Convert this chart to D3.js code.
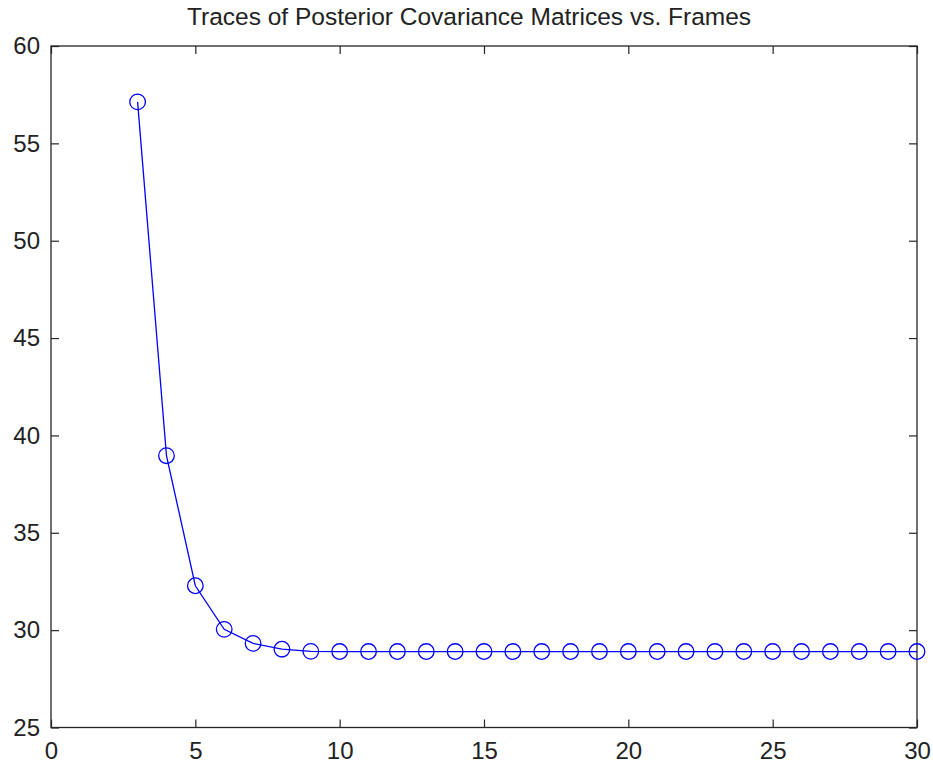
<!DOCTYPE html>
<html>
<head>
<meta charset="utf-8">
<script src="https://cdn.jsdelivr.net/npm/d3@7"></script>
<style>
  body { margin: 0; background: #fff; }
  text { font-family: "Liberation Sans", Arial, sans-serif; fill: #222; }
</style>
</head>
<body>
<div id="chart"></div>
<script>
// frames and trace values
var frames = [3, 4, 5, 6, 7, 8, 9, 10, 11, 12, 13, 14, 15, 16, 17, 18, 19, 20, 21, 22, 23, 24, 25, 26, 27, 28, 29, 30];
var traces = [57.13, 38.96, 32.28, 30.04, 29.32, 29.02, 28.91, 28.9, 28.9, 28.9, 28.9, 28.9, 28.9, 28.9,
              28.9, 28.9, 28.9, 28.9, 28.9, 28.9, 28.9, 28.9, 28.9, 28.9, 28.9, 28.9, 28.9, 28.9];
var xTicks = [0, 5, 10, 15, 20, 25, 30];
var yTicks = [25, 30, 35, 40, 45, 50, 55, 60];
var title = "Traces of Posterior Covariance Matrices vs. Frames";

var width = 933, height = 767;
var mLeft = 51, mRight = 917, mTop = 46, mBottom = 727.5;

var svg = d3.select("#chart")
	.append("svg")
	.attr("width", width)
	.attr("height", height);

var x = d3.scaleLinear().domain([0, 30]).range([mLeft, mRight]);
var y = d3.scaleLinear().domain([25, 60]).range([mBottom, mTop]);

// ticks pointing inward on all four sides
var tickLen = 8;
var axisColor = "#262626";

function styleAxis(g) {
	g.select(".domain").remove();
	g.selectAll(".tick line").attr("stroke", axisColor).attr("stroke-width", 1.2);
	g.selectAll(".tick text").style("font-size", "24px").attr("fill", "#222");
}

svg.append("g")
	.attr("transform", "translate(0," + mBottom + ")")
	.call(d3.axisBottom(x).tickValues(xTicks).tickSize(-tickLen).tickPadding(14))
	.call(styleAxis);

svg.append("g")
	.attr("transform", "translate(0," + mTop + ")")
	.call(d3.axisTop(x).tickValues(xTicks).tickSize(-tickLen).tickFormat(""))
	.call(styleAxis);

svg.append("g")
	.attr("transform", "translate(" + mLeft + ",0)")
	.call(d3.axisLeft(y).tickValues(yTicks).tickSize(-tickLen).tickPadding(11))
	.call(styleAxis);

svg.append("g")
	.attr("transform", "translate(" + mRight + ",0)")
	.call(d3.axisRight(y).tickValues(yTicks).tickSize(-tickLen).tickFormat(""))
	.call(styleAxis);

// box
svg.append("rect")
	.attr("x", mLeft)
	.attr("y", mTop)
	.attr("width", mRight - mLeft)
	.attr("height", mBottom - mTop)
	.attr("fill", "none")
	.attr("stroke", axisColor)
	.attr("stroke-width", 1.3);

var data = frames.map(function(f, i) { return { x: f, y: traces[i] }; });

var line = d3.line()
	.x(function(d) { return x(d.x); })
	.y(function(d) { return y(d.y); });

svg.append("path")
	.datum(data)
	.attr("d", line)
	.attr("fill", "none")
	.attr("stroke", "#0000ff")
	.attr("stroke-width", 1.3);

svg.selectAll(".pt")
	.data(data)
	.enter().append("circle")
	.attr("class", "pt")
	.attr("cx", function(d) { return x(d.x); })
	.attr("cy", function(d) { return y(d.y); })
	.attr("r", 7.8)
	.attr("fill", "none")
	.attr("stroke", "#0000ff")
	.attr("stroke-width", 1.3);

// title sits a little left of the plot centre in the original
svg.append("text")
	.attr("x", 469)
	.attr("y", 25)
	.attr("text-anchor", "middle")
	.style("font-size", "24.5px")
	.text(title);
</script>
</body>
</html>
